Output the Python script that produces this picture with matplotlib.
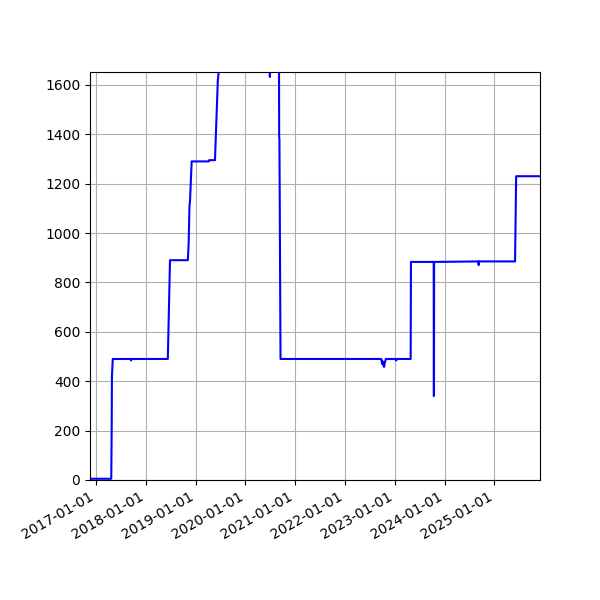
import matplotlib
matplotlib.use("Agg")
import matplotlib.pyplot as plt
import matplotlib.dates as mdates
import pandas as pd

dates = [
    "2016-11-16", "2017-04-21", "2017-04-24", "2017-04-26", "2017-05-02",
    "2017-09-12", "2017-09-14", "2017-09-16",
    "2018-06-10", "2018-06-26",
    "2018-11-04", "2018-11-10", "2018-11-16", "2018-11-20", "2018-12-02",
    "2019-04-06", "2019-04-09", "2019-05-22", "2019-06-12", "2019-06-28",
    "2020-06-26", "2020-06-28", "2020-06-30",
    "2020-09-03", "2020-09-04", "2020-09-06", "2020-09-14",
    "2022-09-24", "2022-09-29", "2022-10-04", "2022-10-10", "2022-10-14",
    "2022-10-19", "2022-10-27",
    "2023-01-10", "2023-01-11", "2023-01-12",
    "2023-04-27", "2023-04-29",
    "2023-10-13", "2023-10-14", "2023-10-15", "2023-10-16",
    "2024-09-06", "2024-09-07", "2024-09-08",
    "2025-06-01", "2025-06-09", "2025-12-01",
]
values = [
    5, 5, 200, 420, 490,
    490, 484, 490,
    490, 890,
    890, 960, 1110, 1130, 1290,
    1290, 1295, 1295, 1620, 1700,
    1700, 1632, 1700,
    1700, 1390, 1380, 490,
    490, 470, 480, 462, 458,
    475, 490,
    490, 484, 490,
    490, 883,
    883, 340, 345, 883,
    885, 870, 885,
    885, 1230, 1230,
]

x = pd.to_datetime(dates)

fig, ax = plt.subplots(figsize=(6, 6), dpi=100)
ax.plot(x, values, color="blue", linewidth=1.5)
ax.set_xlim(x[0], x[-1])
ax.set_ylim(0, 1652)
ax.xaxis.set_major_locator(mdates.YearLocator())
ax.xaxis.set_major_formatter(mdates.DateFormatter("%Y-%m-%d"))
ax.grid(True)
fig.autofmt_xdate()
fig.subplots_adjust(left=0.15, right=0.9, top=0.88, bottom=0.2)
fig.savefig("out.png", dpi=100)
